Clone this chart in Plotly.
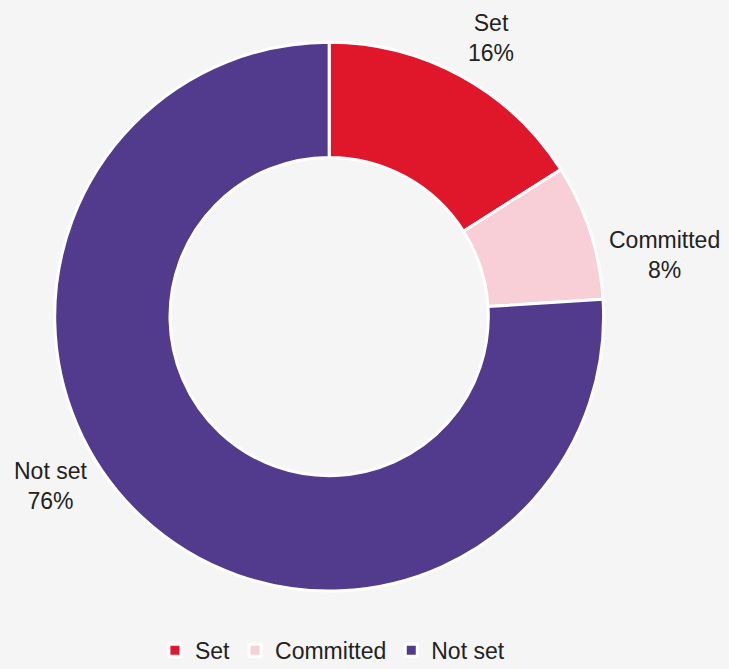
import plotly.graph_objects as go

labels = ["Set", "Committed", "Not set"]
values = [16, 8, 76]
colors = ["#e0162b", "#f9cfd7", "#523b8c"]

# label anchor positions (paper coordinates) for the outside data labels
label_pos = [(0.674, 0.943), (0.912, 0.619), (0.0686, 0.273)]

FONT = "Liberation Sans, Arial, Helvetica, sans-serif"

fig = go.Figure(go.Pie(
    labels=labels,
    values=values,
    hole=0.58,
    sort=False,
    direction="clockwise",
    rotation=0,
    marker=dict(colors=colors, line=dict(color="#ffffff", width=3)),
    textinfo="none",
    domain=dict(x=[0.074, 0.829], y=[0.1166, 0.937]),
    hoverinfo="label+percent",
))

total = sum(values)
for lab, val, (px, py) in zip(labels, values, label_pos):
    fig.add_annotation(
        x=px, y=py, xref="paper", yref="paper",
        xanchor="center", yanchor="middle",
        text=f"{lab}<br>{round(100 * val / total)}%",
        showarrow=False,
        font=dict(size=23, color="#222222", family=FONT),
    )

fig.update_layout(
    width=729, height=669,
    margin=dict(l=0, r=0, t=0, b=0, autoexpand=False),
    paper_bgcolor="#f5f5f5",
    plot_bgcolor="#f5f5f5",
    font=dict(family=FONT, size=23, color="#222222"),
    showlegend=True,
    legend=dict(orientation="h", x=0.456, xanchor="center",
                yref="container", y=0.028, yanchor="middle",
                font=dict(size=23, color="#222222"), itemwidth=30, bgcolor="rgba(0,0,0,0)"),
)

fig.write_html("out.html")
